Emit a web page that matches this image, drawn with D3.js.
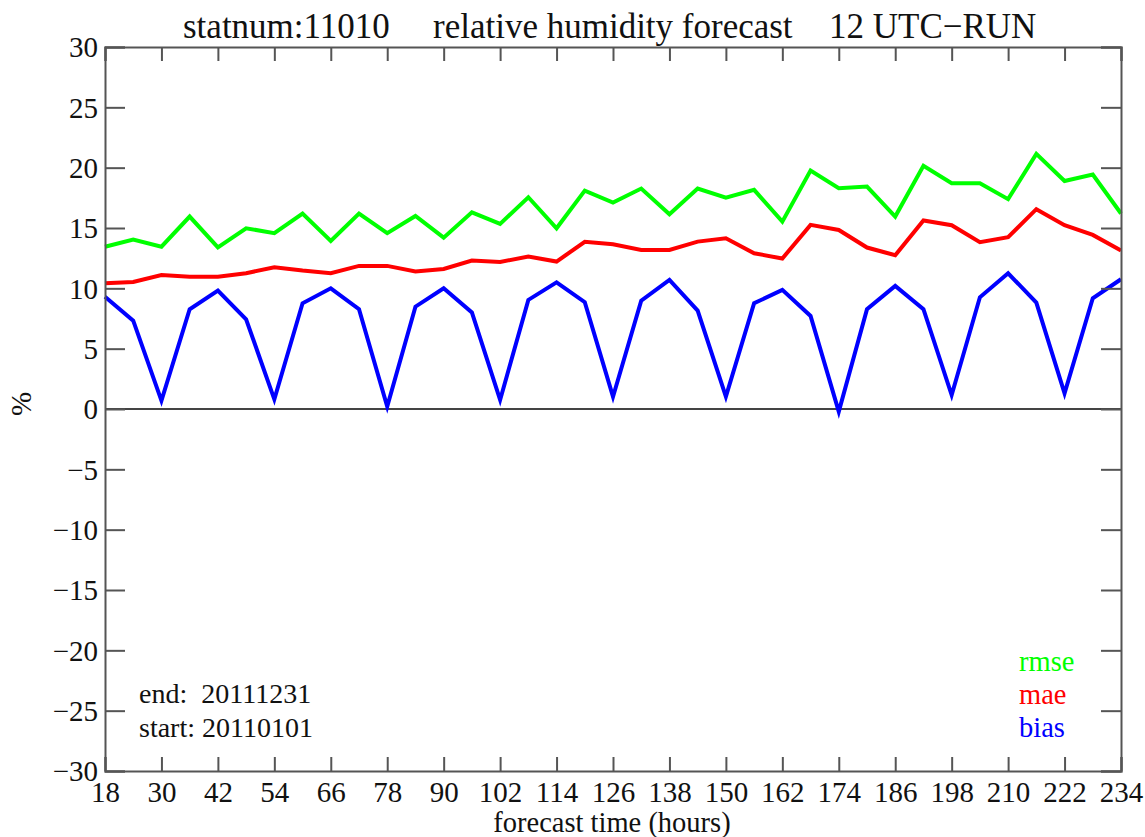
<!DOCTYPE html>
<html>
<head>
<meta charset="utf-8">
<script src="https://cdn.jsdelivr.net/npm/d3@7"></script>
<style>
  body { margin: 0; background: #fff; }
  text { font-family: "Liberation Serif", "DejaVu Serif", serif; fill: #111; }
</style>
</head>
<body>
<script>
// forecast hours, every 6 h
const hours = [18,24,30,36,42,48,54,60,66,72,78,84,90,96,102,108,114,120,126,132,138,144,150,156,162,168,174,180,186,192,198,204,210,216,222,228,234];
const rmse = [13.45,14.05,13.45,15.95,13.4,14.98,14.57,16.2,13.93,16.2,14.57,16.0,14.2,16.3,15.34,17.55,14.98,18.1,17.1,18.27,16.14,18.27,17.52,18.16,15.53,19.76,18.3,18.43,15.95,20.15,18.71,18.71,17.39,21.14,18.9,19.43,16.2];
const mae = [10.42,10.53,11.11,10.97,10.97,11.25,11.75,11.47,11.25,11.86,11.86,11.39,11.61,12.3,12.19,12.63,12.22,13.85,13.65,13.18,13.18,13.87,14.15,12.91,12.47,15.26,14.84,13.38,12.74,15.62,15.23,13.82,14.24,16.56,15.23,14.43,13.13];
const bias = [9.31,7.32,0.7,8.27,9.81,7.44,0.8,8.76,10.0,8.27,0.2,8.48,10.0,8.0,0.75,9.04,10.5,8.85,1.02,8.98,10.7,8.15,1.02,8.76,9.87,7.71,-0.22,8.27,10.2,8.27,1.16,9.26,11.25,8.82,1.3,9.18,10.75];
const xTicks = [18,30,42,54,66,78,90,102,114,126,138,150,162,174,186,198,210,222,234];
const yTicks = [-30,-25,-20,-15,-10,-5,0,5,10,15,20,25,30];

const width = 1145, height = 837;
const plotLeft = 105, plotRight = 1121, plotTop = 47, plotBottom = 771;
const axisColor = "#555";

const svg = d3.select("body").append("svg")
    .attr("width", width)
    .attr("height", height);

const x = d3.scaleLinear().domain([18, 234]).range([plotLeft, plotRight]);
const y = d3.scaleLinear().domain([-30, 30]).range([plotBottom, plotTop]);

// zero line
svg.append("line")
    .attr("x1", plotLeft).attr("x2", plotRight)
    .attr("y1", y(0)).attr("y2", y(0))
    .attr("stroke", "#444").attr("stroke-width", 2);

// series
const line = d3.line().x((d, i) => x(hours[i])).y(d => y(d));
const series = [
    {name: "rmse", values: rmse, color: "#00ff00"},
    {name: "mae", values: mae, color: "#ff0000"},
    {name: "bias", values: bias, color: "#0000ff"}
];
series.forEach(s => {
    svg.append("path")
        .datum(s.values)
        .attr("fill", "none")
        .attr("stroke", s.color)
        .attr("stroke-width", 4)
        .attr("stroke-linejoin", "miter")
        .attr("d", line);
});

// axes (ticks point inward)
const xBottom = d3.axisBottom(x).tickValues(xTicks).tickSize(-14).tickFormat(d3.format("d"));
const gxb = svg.append("g").attr("transform", `translate(0,${plotBottom})`).call(xBottom);
const xTop = d3.axisTop(x).tickValues(xTicks).tickSize(-14).tickFormat("");
const gxt = svg.append("g").attr("transform", `translate(0,${plotTop})`).call(xTop);
const yLeft = d3.axisLeft(y).tickValues(yTicks).tickSize(-20).tickFormat(d => d < 0 ? "\u2212" + Math.abs(d) : d);
const gyl = svg.append("g").attr("transform", `translate(${plotLeft},0)`).call(yLeft);
const yRight = d3.axisRight(y).tickValues(yTicks).tickSize(-20).tickFormat("");
const gyr = svg.append("g").attr("transform", `translate(${plotRight},0)`).call(yRight);

[gxb, gxt, gyl, gyr].forEach(g => {
    g.select(".domain").attr("stroke", axisColor).attr("stroke-width", 2);
    g.selectAll(".tick line").attr("stroke", axisColor).attr("stroke-width", 2);
    g.selectAll(".tick text").style("font-family", '"Liberation Serif", serif').style("font-size", "29px").attr("fill", "#111");
});
gxb.selectAll(".tick text").attr("y", 31).attr("dy", 0);
gyl.selectAll(".tick text").attr("x", -7).attr("dy", "0.34em");

// title
const titleParts = [
    {text: "statnum:11010", x: 183},
    {text: "relative humidity forecast", x: 433},
    {text: "12 UTC\u2212RUN", x: 829}
];
titleParts.forEach(p => {
    svg.append("text")
        .attr("x", p.x).attr("y", 38)
        .style("font-size", "35px")
        .text(p.text);
});

// axis titles
svg.append("text")
    .attr("x", 612).attr("y", 832)
    .attr("text-anchor", "middle")
    .style("font-size", "28.5px")
    .text("forecast time (hours)");
svg.append("text")
    .attr("transform", `translate(31,${y(0) - 5}) rotate(-90)`)
    .attr("text-anchor", "middle")
    .style("font-size", "29px")
    .text("%");

// period annotation
svg.append("text").attr("x", 139).attr("y", 703).style("font-size", "28px").style("white-space", "pre").text("end:  20111231");
svg.append("text").attr("x", 139).attr("y", 737).style("font-size", "28px").text("start: 20110101");

// legend
series.forEach((s, i) => {
    svg.append("text")
        .attr("x", 1019).attr("y", 671 + i * 33)
        .style("font-size", "28.5px")
        .style("fill", s.color)
        .text(s.name);
});
</script>
</body>
</html>
